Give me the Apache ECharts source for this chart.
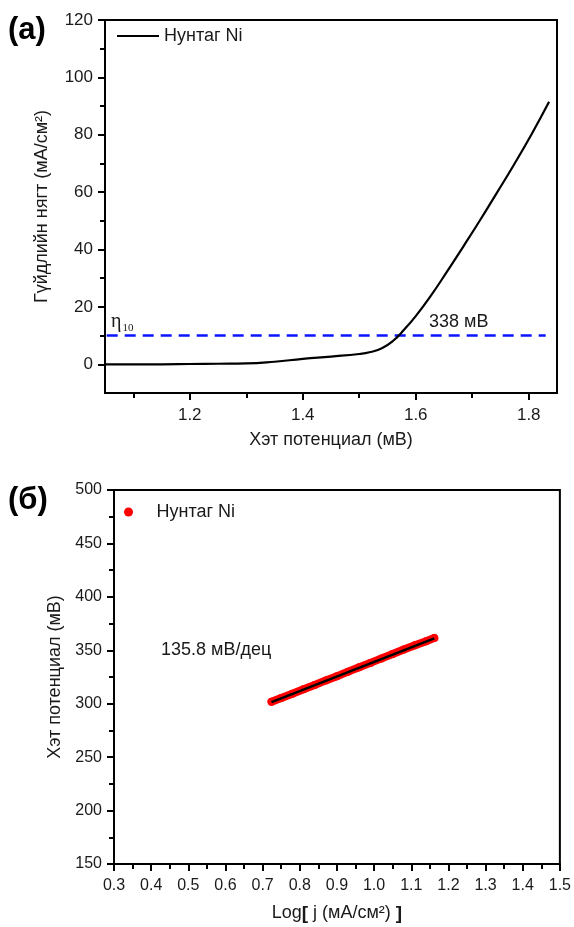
<!DOCTYPE html>
<html>
<head>
<meta charset="utf-8">
<script src="https://cdn.jsdelivr.net/npm/echarts@6/dist/echarts.min.js"></script>
<style>
  html, body { margin: 0; padding: 0; background: #fff; }
  #chart { width: 574px; height: 927px; }
</style>
</head>
<body>
<div id="chart"></div>
<script>
// panel (a): polarisation curve
const potA = [1.05, 1.10, 1.15, 1.20, 1.25, 1.30, 1.35, 1.40, 1.45, 1.50, 1.52, 1.54, 1.56, 1.58, 1.60, 1.625, 1.655, 1.685, 1.714, 1.743, 1.773, 1.805, 1.836]
const curA = [0, 0, 0, 0.1, 0.2, 0.3, 0.9, 1.9, 2.7, 3.6, 4.3, 5.6, 8.2, 12.2, 16.8, 23.4, 32.2, 41.3, 50.3, 59.6, 69.3, 80.2, 91.5]
const eta10X = [1.053, 1.83]
const eta10Y = [10, 10]
const xLabelsA = [1.2, 1.4, 1.6, 1.8]
const xMinorA = [1.1, 1.3, 1.5, 1.7]
const yLabelsA = [0, 20, 40, 60, 80, 100, 120]
const yMinorA = [10, 30, 50, 70, 90, 110]

// panel (б): Tafel plot
const logJ = [0.724, 0.75, 0.78, 0.81, 0.84, 0.87, 0.90, 0.93, 0.96, 0.99, 1.02, 1.05, 1.08, 1.11, 1.14, 1.162]
const etaB = [301.8, 305.3, 309.4, 313.6, 317.5, 321.8, 325.8, 330.0, 334.1, 338.2, 342.4, 346.6, 350.7, 354.6, 358.5, 361.6]
const fitX = [0.724, 1.162]
const fitY = [301.5, 361.2]
const xLabelsB = [0.3, 0.4, 0.5, 0.6, 0.7, 0.8, 0.9, 1.0, 1.1, 1.2, 1.3, 1.4, 1.5]
const xMinorB = [0.35, 0.45, 0.55, 0.65, 0.75, 0.85, 0.95, 1.05, 1.15, 1.25, 1.35, 1.45]
const yLabelsB = [150, 200, 250, 300, 350, 400, 450, 500]
const yMinorB = [175, 225, 275, 325, 375, 425, 475]

const FONT = 'Liberation Sans, Arial, sans-serif'
const INK = '#1a1a1a'

function zip (xs, ys) {
  return xs.map((x, i) => [x, ys[i]])
}

function mainAxis (gridIndex, pos, min, max, labels, fontSize, digits, name, nameGap, margin) {
  return {
    type: 'value',
    gridIndex: gridIndex,
    position: pos,
    min: min,
    max: max,
    name: name,
    nameLocation: 'middle',
    nameGap: nameGap,
    nameTextStyle: { fontFamily: FONT, fontSize: 18, color: INK },
    axisLine: { show: true, onZero: false, lineStyle: { color: '#000', width: 2 } },
    axisTick: { show: true, customValues: labels, length: 7, lineStyle: { color: '#000', width: 2 } },
    axisLabel: {
      show: true,
      customValues: labels,
      margin: margin,
      fontFamily: FONT,
      fontSize: fontSize,
      color: INK,
      formatter: function (v) { return v.toFixed(digits) }
    },
    splitLine: { show: false }
  }
}

// second axis on the same grid, only for the short minor ticks
function minorAxis (gridIndex, pos, min, max, ticks) {
  return {
    type: 'value',
    gridIndex: gridIndex,
    position: pos,
    min: min,
    max: max,
    axisLine: { show: false, onZero: false },
    axisTick: { show: true, customValues: ticks, length: 5, lineStyle: { color: '#000', width: 2 } },
    axisLabel: { show: false },
    splitLine: { show: false }
  }
}

const chart = echarts.init(document.getElementById('chart'), null, { renderer: 'canvas' })
chart.setOption({
  backgroundColor: '#fff',
  animation: false,
  grid: [
    { left: 105, top: 20, width: 452, height: 373, show: true, borderColor: '#000', borderWidth: 2, containLabel: false },
    { left: 114, top: 490, width: 451, height: 374, show: true, borderColor: '#000', borderWidth: 2, containLabel: false }
  ],
  legend: [
    {
      data: [{ name: 'Нунтаг Ni', icon: 'rect' }],
      left: 112,
      top: 22,
      itemWidth: 42,
      itemHeight: 2,
      itemStyle: { color: '#000' },
      textStyle: { fontFamily: FONT, fontSize: 18, color: INK }
    },
    {
      data: [{ name: 'Нунтаг Ni ', icon: 'circle' }],
      left: 119,
      top: 498,
      itemWidth: 46,
      itemHeight: 9,
      itemStyle: { color: '#ff0000' },
      textStyle: { fontFamily: FONT, fontSize: 18, color: INK }
    }
  ],
  xAxis: [
    mainAxis(0, 'bottom', 1.05, 1.85, xLabelsA, 17, 1, 'Хэт потенциал (мВ)', 38, 14),
    minorAxis(0, 'bottom', 1.05, 1.85, xMinorA),
    Object.assign(mainAxis(1, 'bottom', 0.3, 1.5, xLabelsB, 16, 1, '{n|Log}{b|[} {n|j (мА/см²)} {b|]}', 40, 14), {
      nameTextStyle: {
        fontFamily: FONT,
        fontSize: 18,
        color: INK,
        rich: {
          n: { fontFamily: FONT, fontSize: 18, color: INK },
          b: { fontFamily: FONT, fontSize: 19, fontWeight: 'bold', color: INK }
        }
      }
    }),
    minorAxis(1, 'bottom', 0.3, 1.5, xMinorB)
  ],
  yAxis: [
    mainAxis(0, 'left', -10, 120, yLabelsA, 17, 0, 'Гүйдлийн нягт (мА/см²)', 54, 12),
    minorAxis(0, 'left', -10, 120, yMinorA),
    mainAxis(1, 'left', 150, 500, yLabelsB, 16, 0, 'Хэт потенциал (мВ)', 42, 12),
    minorAxis(1, 'left', 150, 500, yMinorB)
  ],
  series: [
    {
      name: 'Нунтаг Ni',
      type: 'line',
      xAxisIndex: 0,
      yAxisIndex: 0,
      data: zip(potA, curA),
      smooth: 0.5,
      symbol: 'none',
      color: '#000',
      lineStyle: { color: '#000', width: 2.2 },
      z: 3
    },
    {
      name: 'eta10',
      type: 'line',
      xAxisIndex: 0,
      yAxisIndex: 0,
      data: zip(eta10X, eta10Y),
      symbol: 'none',
      lineStyle: { color: '#0a14ff', width: 2.5, type: [11, 7] },
      z: 2
    },
    {
      name: 'band',
      type: 'line',
      xAxisIndex: 2,
      yAxisIndex: 2,
      data: zip(logJ, etaB),
      symbol: 'none',
      lineStyle: { color: '#ff0000', width: 8, cap: 'round', join: 'round' },
      z: 2
    },
    {
      name: 'Нунтаг Ni ',
      type: 'scatter',
      xAxisIndex: 2,
      yAxisIndex: 2,
      data: zip(logJ, etaB),
      symbol: 'circle',
      symbolSize: 8,
      itemStyle: { color: '#ff0000', opacity: 1 },
      z: 3
    },
    {
      name: 'fit',
      type: 'line',
      xAxisIndex: 2,
      yAxisIndex: 2,
      data: zip(fitX, fitY),
      symbol: 'none',
      lineStyle: { color: '#000', width: 2.5 },
      z: 4
    }
  ],
  graphic: [
    { type: 'text', left: 8, top: 15, style: { text: '(a)', fontFamily: FONT, fontSize: 31, fontWeight: 'bold', fill: '#000' } },
    { type: 'text', left: 8, top: 485, style: { text: '(б)', fontFamily: FONT, fontSize: 31, fontWeight: 'bold', fill: '#000' } },
    {
      type: 'text',
      left: 111,
      top: 312,
      style: {
        text: '{e|η}{s|10}',
        rich: {
          e: { fontFamily: 'Liberation Serif, serif', fontSize: 20, fill: INK },
          s: { fontFamily: 'Liberation Serif, serif', fontSize: 11, fill: INK, padding: [12, 0, 0, 1] }
        }
      }
    },
    { type: 'text', left: 429, top: 313, style: { text: '338 мВ', fontFamily: FONT, fontSize: 18, fill: INK } },
    { type: 'text', left: 161, top: 641, style: { text: '135.8 мВ/дец', fontFamily: FONT, fontSize: 18, fill: INK } }
  ]
})
</script>
</body>
</html>
